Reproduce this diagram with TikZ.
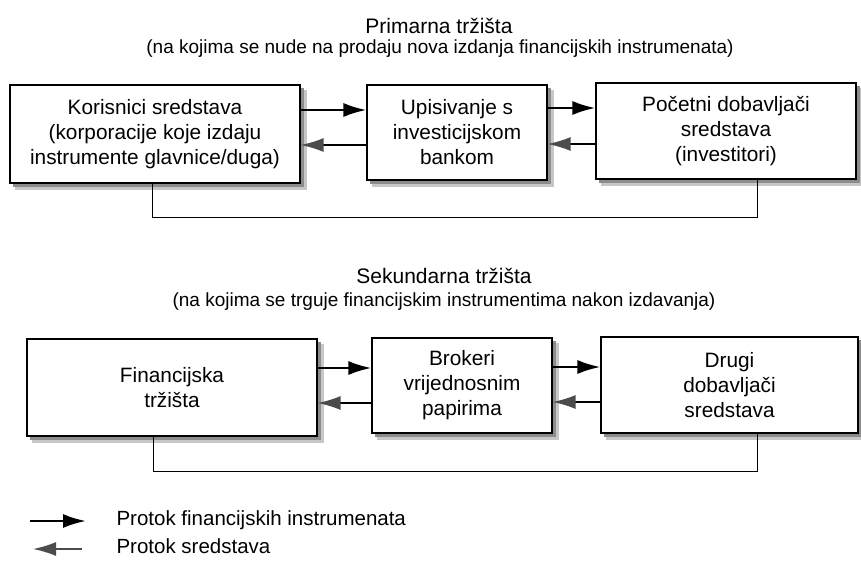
\documentclass[tikz,border=0pt]{standalone}
\usepackage{fontspec}
\setmainfont{Liberation Sans}
\usetikzlibrary{arrows.meta}
\pgfdeclarelayer{shadowlayer}
\pgfsetlayers{shadowlayer,main}
\begin{document}
\begin{tikzpicture}[x=1pt,y=-1pt,
  box/.style={draw, line width=1.1pt, fill=white,
    align=center, inner sep=0pt, font=\fontsize{20.8}{25}\selectfont},
  shadowfar/.style={fill=black!22},
  shadownear/.style={fill=black!45},
  fwd/.style={-{Latex[length=23pt,width=14pt]}, line width=2.4pt},
  bwd/.style={-{Latex[length=23pt,width=14pt,fill=black!70,color=black!70]}, line width=1.7pt},
  link/.style={line width=1pt},
  title/.style={anchor=base, font=\fontsize{21}{25}\selectfont},
  subtitle/.style={anchor=base, font=\fontsize{19}{23}\selectfont},
  legend/.style={anchor=base west, font=\fontsize{20.5}{24}\selectfont}]
\useasboundingbox (0,0) rectangle (861,563);

% titles
\node[title] (t1) at (439,33) {Primarna tržišta};
\node[subtitle] (s1) at (440,53) {(na kojima se nude na prodaju nova izdanja financijskih instrumenata)};
\node[title] (t2) at (444,283) {Sekundarna tržišta};
\node[subtitle] (s2) at (444,306) {(na kojima se trguje financijskim instrumentima nakon izdavanja)};

% primary boxes
\node[box, minimum width=290pt, minimum height=98pt] (b1) at (155,134)
  {Korisnici sredstava\\(korporacije koje izdaju\\instrumente glavnice/duga)};
\node[box, minimum width=180pt, minimum height=95pt] (b2) at (457,132.5)
  {Upisivanje s\\investicijskom\\bankom};
\node[box, minimum width=260pt, minimum height=96pt] (b3) at (726,131)
  {Početni dobavljači\\sredstava\\(investitori)};

% secondary boxes
\node[box, minimum width=290pt, minimum height=97pt] (b4) at (172,387.5)
  {Financijska\\tržišta};
\node[box, minimum width=180pt, minimum height=95pt] (b5) at (462,385.5)
  {Brokeri\\vrijednosnim\\papirima};
\node[box, minimum width=257pt, minimum height=96pt] (b6) at (729.5,385)
  {Drugi\\dobavljači\\sredstava};

% shadows
\begin{pgfonlayer}{shadowlayer}
\foreach \b in {b1,b2,b3,b4,b5,b6}{
  \fill[shadowfar] ([xshift=6pt,yshift=-6pt]\b.south west) rectangle ([xshift=6pt,yshift=-6pt]\b.north east);
  \fill[shadownear] ([xshift=3.5pt,yshift=-3.5pt]\b.south west) rectangle ([xshift=3.5pt,yshift=-3.5pt]\b.north east);
}
\end{pgfonlayer}

% primary arrows
\draw[fwd] (b1.east |- 0,110) -- (b2.west |- 0,110);
\draw[bwd] (b2.west |- 0,145) -- (b1.east |- 0,145);
\draw[fwd] (b2.east |- 0,108) -- (b3.west |- 0,108);
\draw[bwd] (b3.west |- 0,144) -- (b2.east |- 0,144);
\draw[link] (b1.south -| 152,0) -- (152,217) -| (b3.south -| 757,0);

% secondary arrows
\draw[fwd] (b4.east |- 0,368) -- (b5.west |- 0,368);
\draw[bwd] (b5.west |- 0,403) -- (b4.east |- 0,403);
\draw[fwd] (b5.east |- 0,367) -- (b6.west |- 0,367);
\draw[bwd] (b6.west |- 0,402) -- (b5.east |- 0,402);
\draw[link] (b4.south -| 153,0) -- (153,471) -| (b6.south -| 757,0);

% legend
\coordinate (l1a) at (30,521);
\coordinate (l1b) at (86,521);
\coordinate (l2a) at (82,549);
\coordinate (l2b) at (33,549);
\draw[fwd] (l1a) -- (l1b);
\draw[bwd, draw=black!70] (l2a) -- (l2b);
\node[legend] (lt1) at (113,525) {Protok financijskih instrumenata};
\node[legend] (lt2) at (113,553) {Protok sredstava};
\end{tikzpicture}
\end{document}
